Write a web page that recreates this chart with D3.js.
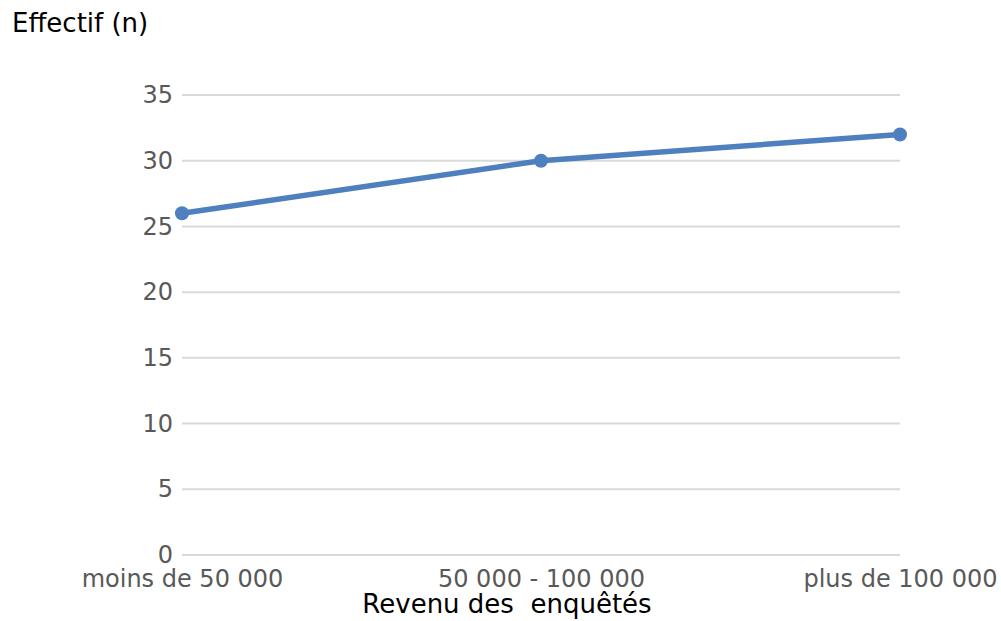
<!DOCTYPE html>
<html><head><meta charset="utf-8">
<script src="https://cdn.jsdelivr.net/npm/d3@7"></script>
<style>body{margin:0;background:#fff;} svg{display:block;}</style>
</head><body>
<script>
const categories = ["moins de 50 000", "50 000 - 100 000", "plus de 100 000"];
const values = [26, 30, 32];
const yTicks = [0, 5, 10, 15, 20, 25, 30, 35];
const yTitle = "Effectif (n)";
const xTitle = "Revenu des\u00a0 enquêtés";

const W = 1001, H = 621;
const svg = d3.select("body").append("svg").attr("width", W).attr("height", H)
  .style("font-family", "'DejaVu Sans', sans-serif");

const x = d3.scalePoint().domain(categories).range([182, 900]).padding(0);
const y = d3.scaleLinear().domain([0, 35]).range([555, 95]);

// gridlines
svg.append("g").selectAll("line").data(yTicks).join("line")
  .attr("x1", 182).attr("x2", 900)
  .attr("y1", d => y(d)).attr("y2", d => y(d))
  .attr("stroke", "#d9d9d9").attr("stroke-width", 2);

// y axis labels
const yAxis = d3.axisLeft(y).tickValues(yTicks).tickSize(0).tickPadding(9);
const gy = svg.append("g").attr("transform", "translate(182,0)").call(yAxis);
gy.select(".domain").remove();
gy.selectAll("text").attr("font-size", 24).attr("fill", "#595959").attr("font-family", "'DejaVu Sans', sans-serif");

// x axis labels
const xAxis = d3.axisBottom(x).tickSize(0).tickPadding(15);
const gx = svg.append("g").attr("transform", "translate(0,555)").call(xAxis);
gx.select(".domain").remove();
gx.selectAll("text").attr("font-size", 24).attr("fill", "#595959").attr("font-family", "'DejaVu Sans', sans-serif");

// line
const line = d3.line().x((d, i) => x(categories[i])).y(d => y(d));
svg.append("path").datum(values).attr("d", line)
  .attr("fill", "none").attr("stroke", "#4e7fbe").attr("stroke-width", 5.5)
  .attr("stroke-linejoin", "round");
svg.append("g").selectAll("circle").data(values).join("circle")
  .attr("cx", (d, i) => x(categories[i])).attr("cy", d => y(d)).attr("r", 7)
  .attr("fill", "#4e7fbe");

// titles
svg.append("text").attr("x", 12).attr("y", 32).text(yTitle)
  .attr("font-size", 26).attr("fill", "#000");
svg.append("text").attr("x", 507).attr("y", 613).attr("text-anchor", "middle").text(xTitle)
  .attr("font-size", 26).attr("fill", "#000");
</script>
</body></html>
